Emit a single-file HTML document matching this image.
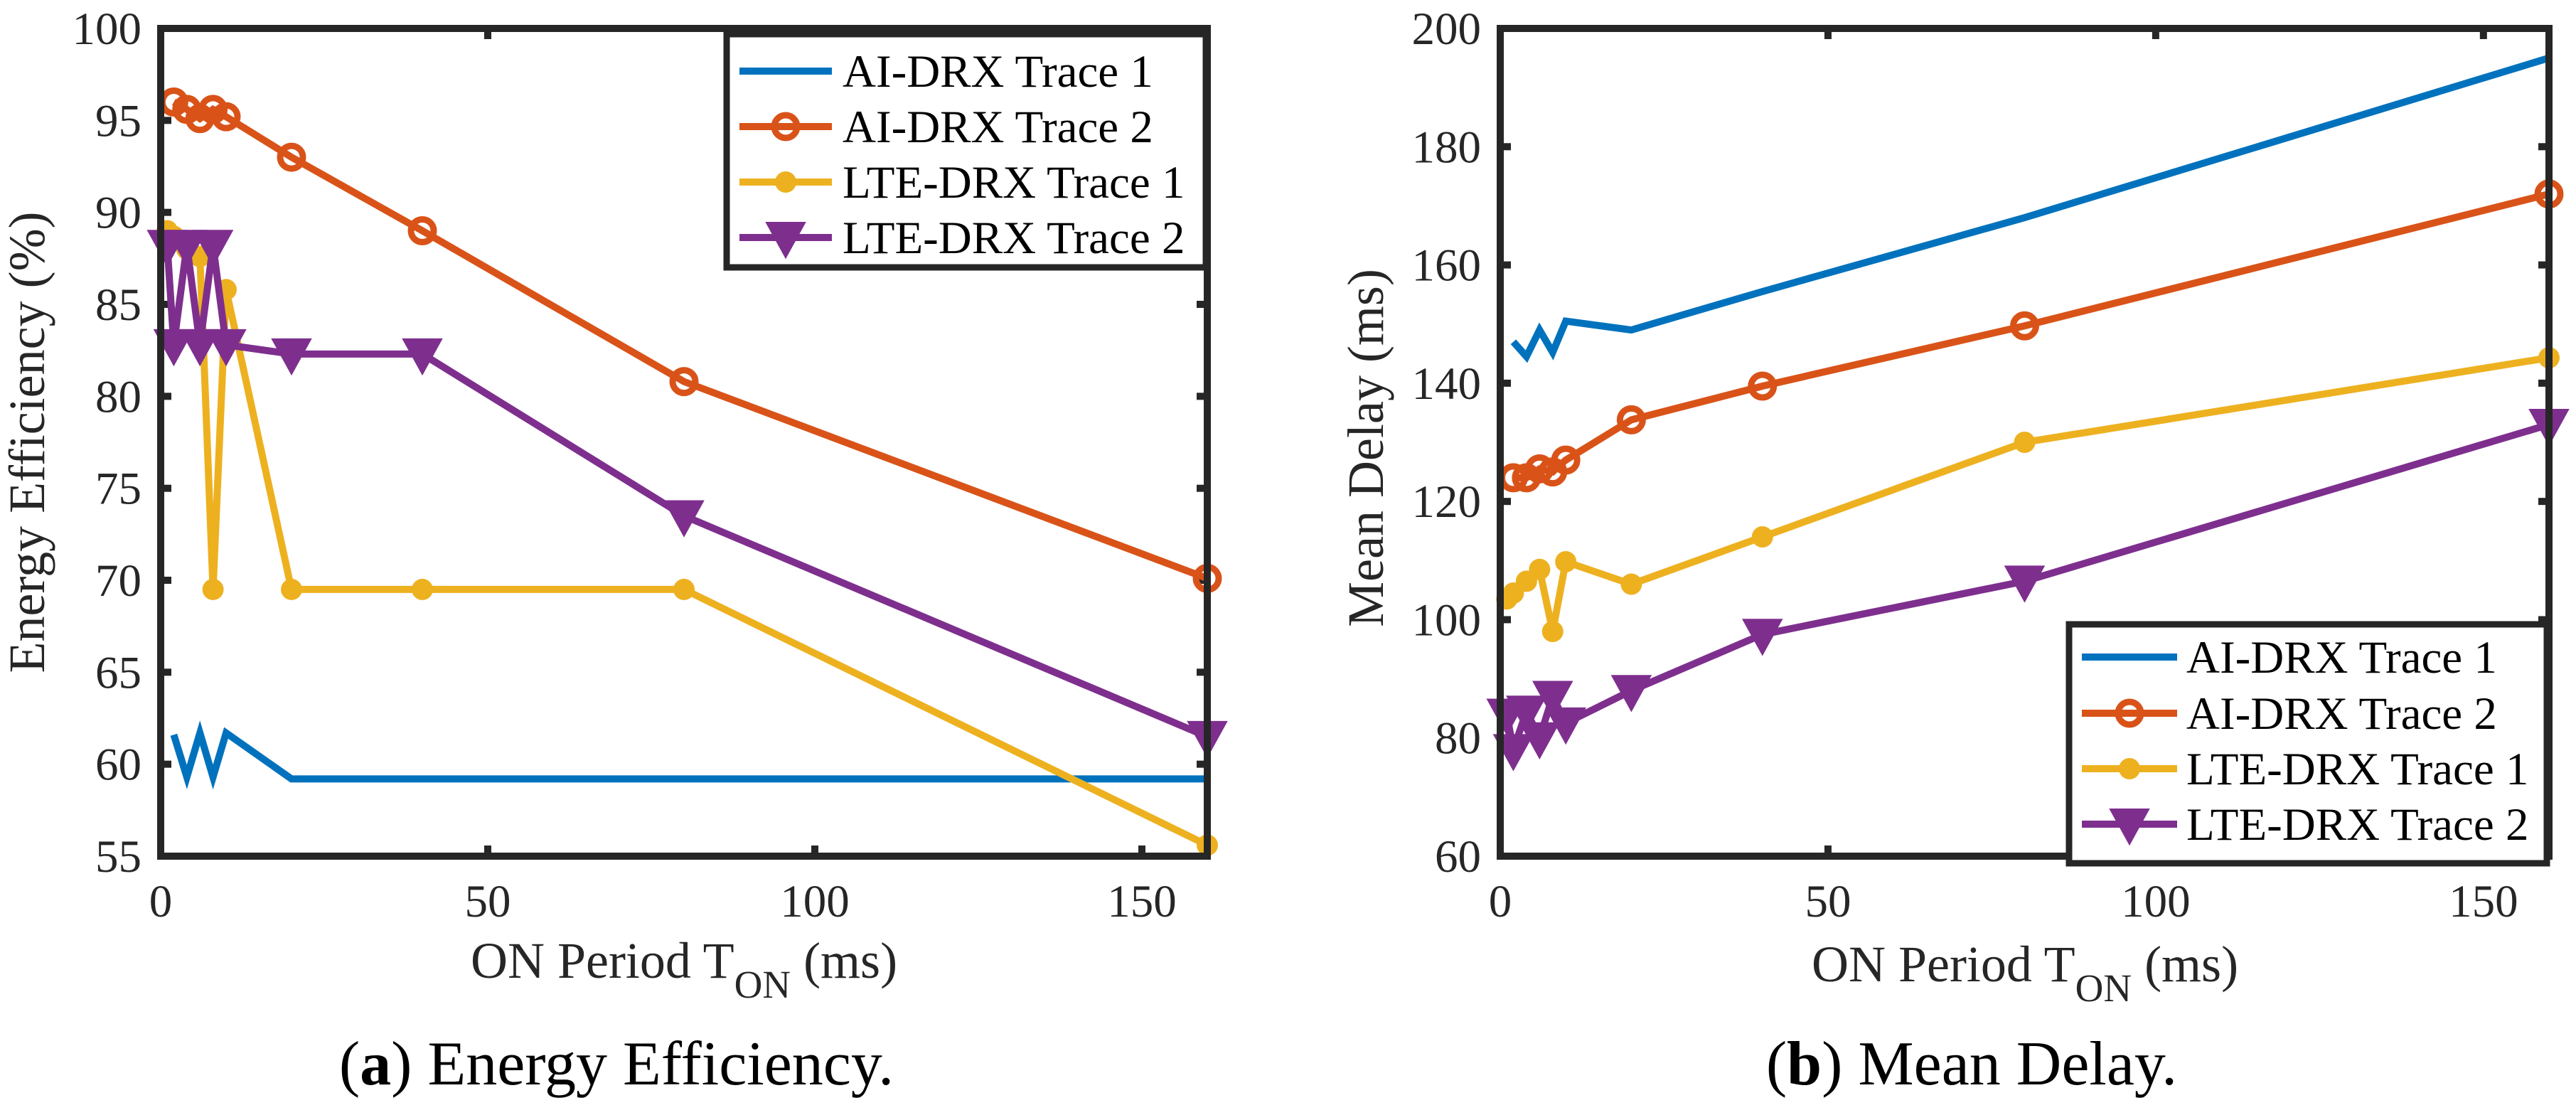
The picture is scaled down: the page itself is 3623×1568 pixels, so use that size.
<!DOCTYPE html>
<html><head><meta charset="utf-8">
<style>
html,body{margin:0;padding:0;background:#fff;}
svg{display:block;font-family:"Liberation Serif","DejaVu Serif",serif;}
text{font-family:"Liberation Serif","DejaVu Serif",serif;}
</style></head>
<body>
<svg id="fig" width="3623" height="1568" viewBox="0 0 3623 1568" xmlns="http://www.w3.org/2000/svg" font-family="Liberation Serif, DejaVu Serif, serif"></svg>
<script>
// ---- data ----
const xAI = [2,4,6,8,10,20,40,80,160];
const xLTE = [1,2,4,6,8,10,20,40,80,160];
const eeAI1 = [61.6,59.3,61.7,59.3,61.7,59.2,59.2,59.2,59.2];
const eeAI2 = [96,95.6,95.1,95.6,95.2,93,89,80.8,70.1];
const eeLTE1 = [89,88.7,88,87.6,69.5,85.8,69.5,69.5,69.5,55.6];
const eeLTE2 = [88.2,82.8,88.2,82.8,88.2,82.8,82.3,82.3,73.5,61.5];
const mdAI1 = [147,144.5,149,145.2,150.5,149,155.5,168,195];
const mdAI2 = [124,124,125.5,125,127,133.8,139.5,149.7,172];
const mdLTE1 = [103.5,104.5,106.5,108.5,98,109.8,106,114,130,144.3];
const mdLTE2 = [84,78,84.5,80,87,82.5,88,97.5,106.5,133];
const xTicks = [0,50,100,150];
const eeTicks = [55,60,65,70,75,80,85,90,95,100];
const mdTicks = [60,80,100,120,140,160,180,200];
const legendLabels = ["AI-DRX Trace 1","AI-DRX Trace 2","LTE-DRX Trace 1","LTE-DRX Trace 2"];

const NS="http://www.w3.org/2000/svg";
const svg=document.getElementById('fig');
const COL=["#0072BD","#D95319","#EDB120","#7E2F8E"];
const FF="Liberation Serif, DejaVu Serif, serif";
function mk(tag,attrs,parent){const e=document.createElementNS(NS,tag);for(const k in attrs)e.setAttribute(k,attrs[k]);if(tag==='text')e.setAttribute('font-family',FF);(parent||svg).appendChild(e);return e;}

function marker(g,type,cx,cy,color){
  let m;
  if(type==='o'){m=mk('circle',{cx:cx,cy:cy,r:16,fill:'none',stroke:color,'stroke-width':9},g);}
  else if(type==='.'){m=mk('circle',{cx:cx,cy:cy,r:15,fill:color},g);}
  else if(type==='v'){m=mk('polygon',{points:`${cx-22},${cy-18} ${cx+22},${cy-18} ${cx},${cy+22}`,fill:color,stroke:color,'stroke-width':8,'stroke-linejoin':'miter'},g);}
  if(m){
  
  
  }
}

function plot(cfg){
  const {L,R,T,B,ymin,ymax,yt,series,id}=cfg;
  const sx=v=>L+(v-0)/(160-0)*(R-L);
  const sy=v=>B-(v-ymin)/(ymax-ymin)*(B-T);
  const g=mk('g',{});
  
  
  xTicks.forEach(t=>{
    const x=sx(t);
    mk('line',{x1:x,y1:B,x2:x,y2:B-15,stroke:'#262626','stroke-width':10},g);
    mk('line',{x1:x,y1:T,x2:x,y2:T+15,stroke:'#262626','stroke-width':10},g);
    const tx=mk('text',{x:x,y:1289,'font-size':65,fill:'#262626','text-anchor':'middle'},g);
    tx.textContent=t;
    
    
  });
  yt.forEach(t=>{
    const y=sy(t);
    mk('line',{x1:L,y1:y,x2:L+15,y2:y,stroke:'#262626','stroke-width':10},g);
    mk('line',{x1:R,y1:y,x2:R-15,y2:y,stroke:'#262626','stroke-width':10},g);
    const tx=mk('text',{x:L-27,y:y+22,'font-size':65,fill:'#262626','text-anchor':'end'},g);
    tx.textContent=t;
    
    
  });
  series.forEach((s,i)=>{
    const sg=mk('g',{},g);
    
    
    const pts=s.x.map((xv,k)=>sx(xv)+','+sy(s.y[k])).join(' ');
    const pl=mk('polyline',{points:pts,fill:'none',stroke:COL[i],'stroke-width':10,'stroke-linejoin':'miter','stroke-miterlimit':4},sg);
    
    
    if(s.m) s.x.forEach((xv,k)=>marker(sg,s.m,sx(xv),sy(s.y[k]),COL[i]));
  });
  const box=mk('rect',{x:L,y:T,width:R-L,height:B-T,fill:'none',stroke:'#262626','stroke-width':10},g);
  
  
  return g;
}

function legend(x,y,w,h,rowY,lineX1,lineX2,textX){
  const g=mk('g',{});
  
  
  mk('rect',{x:x,y:y,width:w,height:h,fill:'#fff',stroke:'#262626','stroke-width':9},g);
  const types=[null,'o','.','v'];
  legendLabels.forEach((lab,i)=>{
    const ry=rowY[i];
    const e=mk('g',{},g);
    
    
    mk('line',{x1:lineX1,y1:ry,x2:lineX2,y2:ry,stroke:COL[i],'stroke-width':10},e);
    if(types[i]) marker(e,types[i],(lineX1+lineX2)/2,ry,COL[i]);
    const t=mk('text',{x:textX,y:ry+22,'font-size':65,fill:'#000'},e);
    t.textContent=lab;
  });
}

function xlabel(cx,y){
  const t=mk('text',{x:cx,y:y,'font-size':72,fill:'#262626','text-anchor':'middle'});
  
  
  t.innerHTML='ON Period T<tspan font-size="55" dy="28">ON</tspan><tspan dy="-28"> (ms)</tspan>';
}
function ylabel(cx,cy,txt){
  const t=mk('text',{x:0,y:0,'font-size':72,fill:'#262626','text-anchor':'middle',transform:`translate(${cx},${cy}) rotate(-90)`});
  
  
  t.textContent=txt;
}
function caption(cx,y,letter,txt){
  const t=mk('text',{x:cx,y:y,'font-size':88,fill:'#000','text-anchor':'middle'});
  
  
  t.innerHTML='(<tspan font-weight="bold">'+letter+'</tspan>) '+txt;
}

plot({id:'energy-efficiency',L:226,R:1698,T:40,B:1204,ymin:55,ymax:100,yt:eeTicks,series:[
  {x:xAI,y:eeAI1,m:null},{x:xAI,y:eeAI2,m:'o'},{x:xLTE,y:eeLTE1,m:'.'},{x:xLTE,y:eeLTE2,m:'v'}]});
legend(1022,48,674,328,[100,178,256,334],1040,1170,1185);
ylabel(62,622,'Energy Efficiency (%)');
xlabel(962,1375);
caption(867,1525,'a','Energy Efficiency.');

plot({id:'mean-delay',L:2110,R:3585,T:40,B:1204,ymin:60,ymax:200,yt:mdTicks,series:[
  {x:xAI,y:mdAI1,m:null},{x:xAI,y:mdAI2,m:'o'},{x:xLTE,y:mdLTE1,m:'.'},{x:xLTE,y:mdLTE2,m:'v'}]});
legend(2910,878,672,336,[924,1003,1081,1159],2928,3062,3075);
ylabel(1945,630,'Mean Delay (ms)');
xlabel(2848,1380);
caption(2773,1525,'b','Mean Delay.');
</script>
</body></html>
